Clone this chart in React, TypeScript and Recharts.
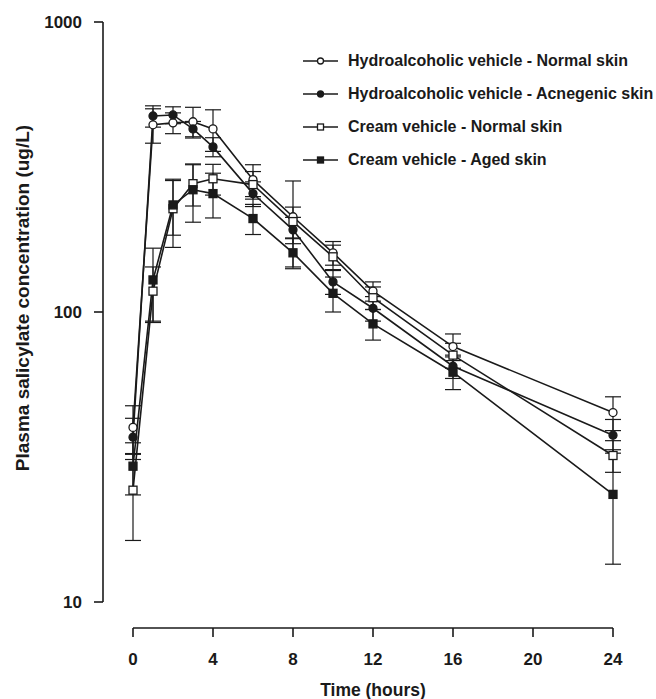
import React from "react";
import { LineChart, Line, XAxis, YAxis, ErrorBar, Legend } from "recharts";

// sampling times (h)
const times = [0, 1, 2, 3, 4, 6, 8, 10, 12, 16, 24];

// mean plasma salicylate (ug/L) and SD
const hydroNormal = [40, 442, 449, 453, 428, 286, 213, 160, 118, 76, 45];
const hydroNormalSd = [7.5, 60, 37, 55, 70, 36, 70, 15, 9, 8, 6];
const hydroAcne = [37, 474, 478, 428, 371, 256, 192, 127, 103, 65, 37.6];
const hydroAcneSd = [6, 40, 32, 26, 28, 25, 20, 12, 10, 6, 5];
const creamNormal = [24.3, 118, 227, 277, 288, 275, 205, 155, 112, 71, 32];
const creamNormalSd = [8, 25, 60, 45, 35, 30, 25, 15, 10, 7, 4];
const creamAged = [29.4, 129, 234, 264, 256, 210, 160, 116, 91, 62, 23.5];
const creamAgedSd = [6, 37, 50, 60, 45, 25, 19, 16, 11, 8, 10];

const xTicks = [0, 4, 8, 12, 16, 20, 24];
const yTicks = [10, 100, 1000];

const series = [
  { key: "hydroNormal", name: "Hydroalcoholic vehicle - Normal skin", shape: "circle", filled: false },
  { key: "hydroAcne", name: "Hydroalcoholic vehicle - Acnegenic skin", shape: "circle", filled: true },
  { key: "creamNormal", name: "Cream vehicle - Normal skin", shape: "square", filled: false },
  { key: "creamAged", name: "Cream vehicle - Aged skin", shape: "square", filled: true },
];

const data = times.map((t, i) => ({
  t,
  hydroNormal: hydroNormal[i],
  hydroNormalSd: hydroNormalSd[i],
  hydroAcne: hydroAcne[i],
  hydroAcneSd: hydroAcneSd[i],
  creamNormal: creamNormal[i],
  creamNormalSd: creamNormalSd[i],
  creamAged: creamAged[i],
  creamAgedSd: creamAgedSd[i],
}));

const INK = "#1a1a1a";
const FONT = "'Liberation Sans', Arial, Helvetica, sans-serif";
const tickStyle = { fill: INK, fontSize: 17, fontWeight: 700, fontFamily: FONT };
const titleStyle = { fill: INK, fontSize: 17.5, fontWeight: 700, fontFamily: FONT };

function Marker({ cx, cy, shape, filled, size }: any) {
  if (cx == null || cy == null) return null;
  const fill = filled ? INK : "#fff";
  if (shape === "circle") {
    return <circle cx={cx} cy={cy} r={size / 2} fill={fill} stroke={INK} strokeWidth={1.3} />;
  }
  return (
    <rect x={cx - size / 2} y={cy - size / 2} width={size} height={size} fill={fill} stroke={INK} strokeWidth={1.3} />
  );
}

function LegendBox() {
  return (
    <div style={{ fontFamily: FONT, fontWeight: 700, fontSize: 16, color: INK }}>
      {series.map((s) => (
        <div key={s.key} style={{ display: "flex", alignItems: "center", height: 33, whiteSpace: "nowrap" }}>
          <svg width={45} height={12} style={{ flex: "none" }}>
            <line x1={0} x2={35} y1={6} y2={6} stroke={INK} strokeWidth={1.5} />
            <Marker cx={17.5} cy={6} shape={s.shape} filled={s.filled} size={6} />
          </svg>
          <span>{s.name}</span>
        </div>
      ))}
    </div>
  );
}

function YTitle(props: any) {
  const vb = props.viewBox && props.viewBox.height ? props.viewBox : { x: 0, y: 22, width: 103, height: 580 };
  const cx = vb.x + 22;
  const cy = vb.y + vb.height / 2 - 14;
  return (
    <text
      x={cx}
      y={cy}
      transform={`rotate(-90 ${cx} ${cy})`}
      textAnchor="middle"
      dominantBaseline="central"
      style={{ ...titleStyle, fontSize: 19 }}
    >
      Plasma salicylate concentration (ug/L)
    </text>
  );
}

export default function App() {
  return (
    <div style={{ position: "absolute", left: 0, top: 0, background: "#fff" }}>
      <LineChart width={656} height={699} data={data} margin={{ top: 22, right: 43, bottom: 0, left: 0 }}>
        {/* data axes sit next to the plot, the drawn axes are stacked outside them */}
        <XAxis xAxisId="gap" dataKey="t" type="number" domain={[0, 24]} height={26} tick={false} axisLine={false} tickLine={false} />
        <XAxis
          xAxisId="time"
          dataKey="t"
          type="number"
          domain={[0, 24]}
          ticks={xTicks}
          height={71}
          tickSize={9}
          tickMargin={16}
          tick={tickStyle}
          axisLine={{ stroke: INK, strokeWidth: 1.6 }}
          tickLine={{ stroke: INK, strokeWidth: 1.6 }}
          label={{ value: "Time (hours)", position: "insideBottom", offset: 3, ...titleStyle }}
        />
        <YAxis yAxisId="conc" scale="log" type="number" domain={[10, 1000]} allowDataOverflow width={30} tick={false} axisLine={false} tickLine={false} />
        <YAxis
          yAxisId="frame"
          scale="log"
          type="number"
          domain={[10, 1000]}
          allowDataOverflow
          ticks={yTicks}
          width={103}
          tickSize={9}
          tickMargin={12}
          tick={tickStyle}
          axisLine={{ stroke: INK, strokeWidth: 1.6 }}
          tickLine={{ stroke: INK, strokeWidth: 1.6 }}
          label={<YTitle />}
        />
        <Legend
          layout="vertical"
          align="center"
          verticalAlign="middle"
          content={<LegendBox />}
          wrapperStyle={{ left: 303, top: 44, width: "auto", height: "auto" }}
        />
        {series.map((s) => (
          <Line
            key={s.key}
            xAxisId="time"
            yAxisId="conc"
            type="linear"
            dataKey={s.key}
            name={s.name}
            stroke={INK}
            strokeWidth={1.6}
            isAnimationActive={false}
            dot={(p: any) => (
              <Marker key={`${s.key}-${p.index}`} cx={p.cx} cy={p.cy} shape={s.shape} filled={s.filled} size={8} />
            )}
            activeDot={false}
          >
            <ErrorBar dataKey={`${s.key}Sd`} width={8} stroke={INK} strokeWidth={1.2} isAnimationActive={false} />
          </Line>
        ))}
      </LineChart>
    </div>
  );
}
